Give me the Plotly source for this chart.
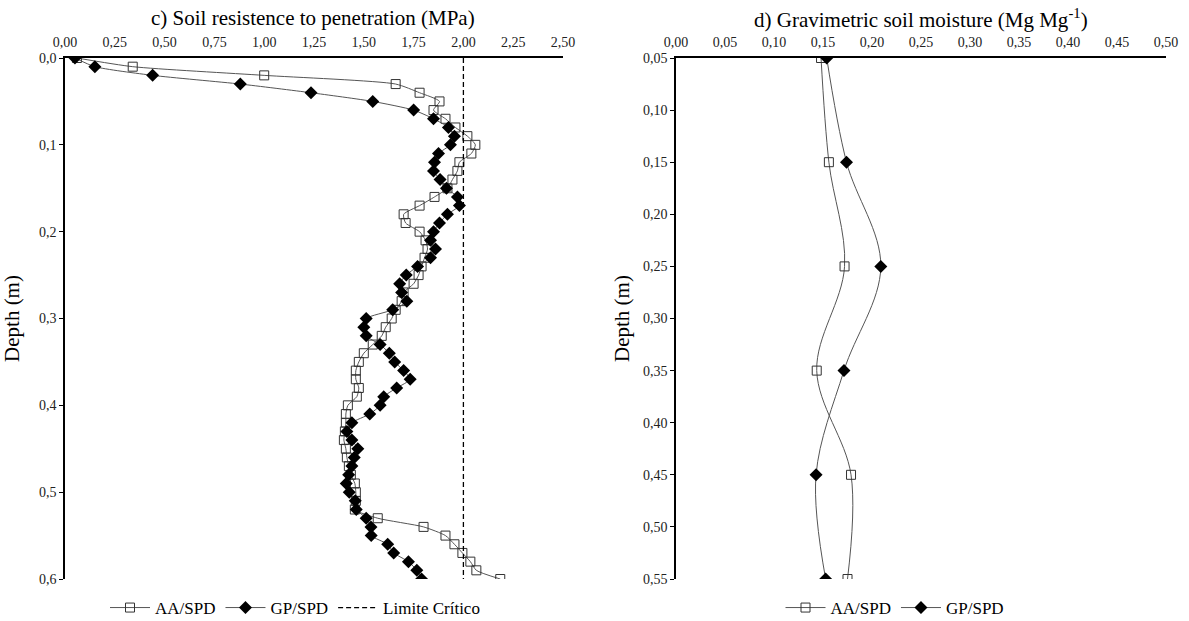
import plotly.graph_objects as go

# ---------------- data ----------------
depth_c = [0.00, 0.01, 0.02, 0.03, 0.04, 0.05, 0.06, 0.07, 0.08, 0.09,
           0.10, 0.11, 0.12, 0.13, 0.14, 0.15, 0.16, 0.17, 0.18, 0.19,
           0.20, 0.21, 0.22, 0.23, 0.24, 0.25, 0.26, 0.27, 0.28, 0.29,
           0.30, 0.31, 0.32, 0.33, 0.34, 0.35, 0.36, 0.37, 0.38, 0.39,
           0.40, 0.41, 0.42, 0.43, 0.44, 0.45, 0.46, 0.47, 0.48, 0.49,
           0.50, 0.51, 0.52, 0.53, 0.54, 0.55, 0.56, 0.57, 0.58, 0.59, 0.60]

aa_resist = [0.06, 0.34, 1.00, 1.66, 1.78, 1.88, 1.85, 1.91, 1.96, 2.02,
             2.06, 2.04, 1.98, 1.97, 1.945, 1.92, 1.855, 1.78, 1.70, 1.71,
             1.78, 1.81, 1.82, 1.805, 1.79, 1.775, 1.75, 1.70, 1.69, 1.66,
             1.64, 1.61, 1.59, 1.545, 1.50, 1.475, 1.46, 1.46, 1.475, 1.465,
             1.42, 1.41, 1.41, 1.405, 1.40, 1.41, 1.415, 1.425, 1.435, 1.455,
             1.46, 1.46, 1.455, 1.57, 1.80, 1.91, 1.955, 1.995, 2.035, 2.065, 2.185]

gp_resist = [0.05, 0.15, 0.44, 0.88, 1.235, 1.545, 1.75, 1.85, 1.925, 1.955,
             1.935, 1.875, 1.855, 1.85, 1.883, 1.915, 1.97, 1.98, 1.92, 1.88,
             1.85, 1.835, 1.86, 1.835, 1.77, 1.713, 1.68, 1.69, 1.716, 1.645,
             1.512, 1.50, 1.512, 1.582, 1.628, 1.655, 1.70, 1.733, 1.665, 1.60,
             1.582, 1.53, 1.44, 1.415, 1.44, 1.47, 1.452, 1.44, 1.424, 1.412,
             1.427, 1.457, 1.462, 1.512, 1.536, 1.537, 1.62, 1.65, 1.724, 1.766, 1.79]

critical_limit = [2.00, 2.00]
critical_depth = [0.0, 0.6]

depth_d = [0.05, 0.15, 0.25, 0.35, 0.45, 0.55]
aa_moist = [0.148, 0.156, 0.172, 0.1436, 0.1786, 0.175]
gp_moist = [0.1538, 0.174, 0.209, 0.1714, 0.1429, 0.1527]

title_c = "c) Soil resistence to penetration (MPa)"
title_d = "d) Gravimetric soil moisture (Mg Mg<sup>-1</sup>)"

# ---------------- style ----------------
FONT = "Liberation Serif"
LINE_COL = "#555555"
W, H = 1189, 621

def px_x(p):
    return p / W

def px_y(p):
    return 1 - p / H

sq_marker = dict(symbol="square-open", size=9, color="#333333", line=dict(width=1, color="#333333"))
dm_marker = dict(symbol="diamond", size=10, color="black", line=dict(width=0))

fig = go.Figure()

# Left panel
fig.add_trace(go.Scatter(x=aa_resist, y=depth_c, mode="lines+markers", name="AA/SPD",
                         line=dict(color=LINE_COL, width=1, shape="spline", smoothing=0.6),
                         marker=sq_marker, xaxis="x", yaxis="y", legend="legend"))
fig.add_trace(go.Scatter(x=gp_resist, y=depth_c, mode="lines+markers", name="GP/SPD",
                         line=dict(color=LINE_COL, width=1, shape="spline", smoothing=0.6),
                         marker=dm_marker, xaxis="x", yaxis="y", legend="legend"))
fig.add_trace(go.Scatter(x=critical_limit, y=critical_depth, mode="lines", name="Limite Crítico",
                         line=dict(color="black", width=1.3, dash="5px,3px"),
                         xaxis="x", yaxis="y", legend="legend"))

# Right panel
fig.add_trace(go.Scatter(x=aa_moist, y=depth_d, mode="lines+markers", name="AA/SPD",
                         line=dict(color=LINE_COL, width=1, shape="spline", smoothing=1.0),
                         marker=sq_marker, xaxis="x2", yaxis="y2", legend="legend2"))
fig.add_trace(go.Scatter(x=gp_moist, y=depth_d, mode="lines+markers", name="GP/SPD",
                         line=dict(color=LINE_COL, width=1, shape="spline", smoothing=1.0),
                         marker=dm_marker, xaxis="x2", yaxis="y2", legend="legend2"))

axis_common = dict(showgrid=False, zeroline=False, showline=True, linecolor="black",
                   linewidth=1.5, automargin=False,
                   tickfont=dict(family=FONT, size=14, color="#222222"))

fig.update_layout(
    width=W, height=H,
    margin=dict(l=0, r=0, t=0, b=0, autoexpand=False),
    paper_bgcolor="white", plot_bgcolor="white",
    separators=", ",
    font=dict(family=FONT, color="black"),
    xaxis=dict(domain=[px_x(65), px_x(563)], range=[0, 2.5], dtick=0.25, tick0=0,
               tickformat=".2f", side="top", anchor="y", ticks="", ticklabelstandoff=4,
               **axis_common),
    yaxis=dict(domain=[px_y(579), px_y(58)], range=[0.6, 0], dtick=0.1, tick0=0,
               tickformat=".1f", anchor="x", ticks="outside", ticklen=4, tickcolor="black",
               title=dict(text="Depth (m)", font=dict(family=FONT, size=21), standoff=16),
               **axis_common),
    xaxis2=dict(domain=[px_x(676), px_x(1166)], range=[0, 0.5], dtick=0.05, tick0=0,
                tickformat=".2f", side="top", anchor="y2", ticks="", ticklabelstandoff=4,
                **axis_common),
    yaxis2=dict(domain=[px_y(579), px_y(58)], range=[0.55, 0.05], dtick=0.05, tick0=0.05,
                tickformat=".2f", anchor="x2", ticks="outside", ticklen=4, tickcolor="black",
                title=dict(text="Depth (m)", font=dict(family=FONT, size=21), standoff=8),
                **axis_common),
    legend=dict(orientation="h", x=px_x(295), y=px_y(608), xanchor="center", yanchor="middle",
                font=dict(family=FONT, size=17), bgcolor="rgba(0,0,0,0)", itemwidth=40,
                tracegroupgap=0),
    legend2=dict(orientation="h", x=px_x(895), y=px_y(608), xanchor="center", yanchor="middle",
                 font=dict(family=FONT, size=17), bgcolor="rgba(0,0,0,0)", itemwidth=40),
    annotations=[
        dict(text=title_c, x=px_x(313), y=px_y(18), xref="paper", yref="paper",
             showarrow=False, font=dict(family=FONT, size=21), xanchor="center", yanchor="middle"),
        dict(text=title_d, x=px_x(921), y=px_y(18), xref="paper", yref="paper",
             showarrow=False, font=dict(family=FONT, size=21), xanchor="center", yanchor="middle"),
    ],
    showlegend=True,
)

fig.write_html("out.html")
